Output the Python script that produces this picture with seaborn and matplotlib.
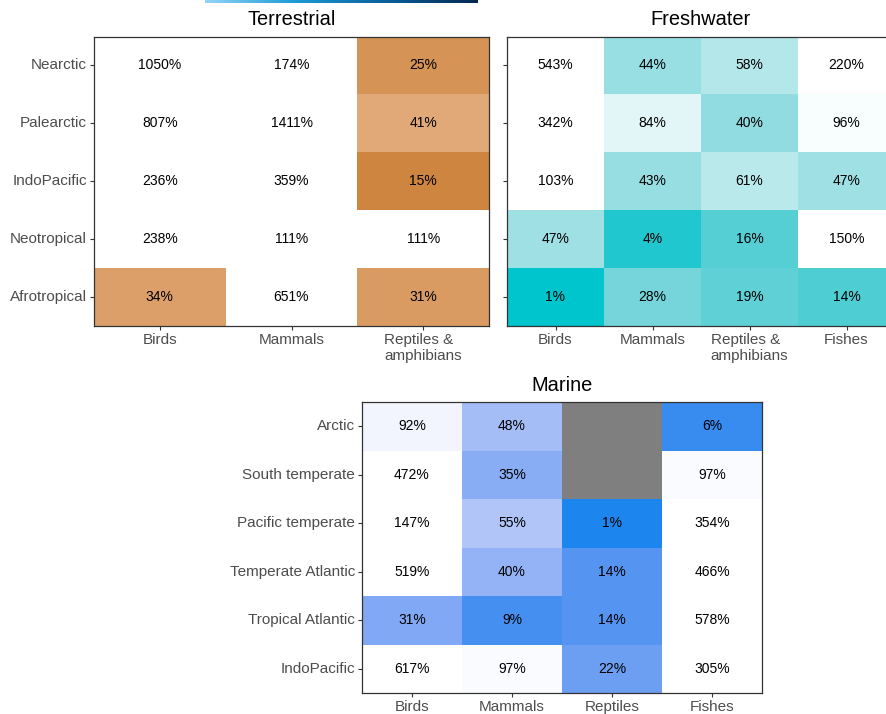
import numpy as np
import pandas as pd
import matplotlib
matplotlib.use("Agg")
import matplotlib.pyplot as plt
from matplotlib.colors import ListedColormap, Normalize, LinearSegmentedColormap
import seaborn as sns

# ---- data (percentages) ----
terr_rows = ["Nearctic", "Palearctic", "IndoPacific", "Neotropical", "Afrotropical"]
terr_cols = ["Birds", "Mammals", "Reptiles &\namphibians"]
terr_birds = [1050, 807, 236, 238, 34]
terr_mammals = [174, 1411, 359, 111, 651]
terr_reptiles = [25, 41, 15, 111, 31]

fresh_rows = ["Nearctic", "Palearctic", "IndoPacific", "Neotropical", "Afrotropical"]
fresh_cols = ["Birds", "Mammals", "Reptiles &\namphibians", "Fishes"]
fresh_birds = [543, 342, 103, 47, 1]
fresh_mammals = [44, 84, 43, 4, 28]
fresh_reptiles = [58, 40, 61, 16, 19]
fresh_fishes = [220, 96, 47, 150, 14]

marine_rows = ["Arctic", "South temperate", "Pacific temperate",
               "Temperate Atlantic", "Tropical Atlantic", "IndoPacific"]
marine_cols = ["Birds", "Mammals", "Reptiles", "Fishes"]
marine_birds = [92, 472, 147, 519, 31, 617]
marine_mammals = [48, 35, 55, 40, 9, 97]
marine_reptiles = [np.nan, np.nan, 1, 14, 14, 22]
marine_fishes = [6, 97, 354, 466, 578, 305]

TEXT_GREY = "#4D4D4D"
FRAME = "#333333"
NA_GREY = "#7F7F7F"


# ---- CIELAB gradient helpers ----
def _srgb_to_lin(c):
    c = np.asarray(c, float)
    return np.where(c <= 0.04045, c / 12.92, ((c + 0.055) / 1.055) ** 2.4)


def _lin_to_srgb(c):
    c = np.clip(c, 0, 1)
    return np.where(c <= 0.0031308, 12.92 * c, 1.055 * c ** (1 / 2.4) - 0.055)


_M = np.array([[0.4124564, 0.3575761, 0.1804375],
               [0.2126729, 0.7151522, 0.0721750],
               [0.0193339, 0.1191920, 0.9503041]])
_WP = np.array([0.95047, 1.0, 1.08883])


def _rgb_to_lab(rgb):
    xyz = _M @ _srgb_to_lin(rgb) / _WP
    f = np.where(xyz > (6 / 29) ** 3, np.cbrt(xyz), xyz / (3 * (6 / 29) ** 2) + 4 / 29)
    return np.array([116 * f[1] - 16, 500 * (f[0] - f[1]), 200 * (f[1] - f[2])])


def _lab_to_rgb(lab):
    L, a, b = lab
    fy = (L + 16) / 116
    fx = fy + a / 500
    fz = fy - b / 200
    f = np.array([fx, fy, fz])
    xyz = np.where(f > 6 / 29, f ** 3, 3 * (6 / 29) ** 2 * (f - 4 / 29)) * _WP
    lin = np.linalg.inv(_M) @ xyz
    return np.clip(_lin_to_srgb(lin), 0, 1)


def lab_ramp(low_hex, n=256):
    low = np.array(matplotlib.colors.to_rgb(low_hex))
    lab_lo = _rgb_to_lab(low)
    lab_hi = _rgb_to_lab(np.ones(3))
    cols = [_lab_to_rgb(lab_lo * (1 - t) + lab_hi * t) for t in np.linspace(0, 1, n)]
    cmap = ListedColormap(cols)
    cmap.set_over("white")
    cmap.set_bad(NA_GREY)
    return cmap


def draw_panel(ax, rows, cols, columns, low_color, title, show_ylabels=True):
    df = pd.DataFrame(dict(zip(cols, columns)), index=rows)
    labels = df.map(lambda v: "" if pd.isna(v) else f"{int(v)}%")
    vmin = np.nanmin(df.values)
    sns.heatmap(df, ax=ax, cmap=lab_ramp(low_color),
                norm=Normalize(vmin=vmin, vmax=100), cbar=False,
                annot=labels.values, fmt="",
                annot_kws={"color": "black", "fontsize": 10})
    ax.set_facecolor(NA_GREY)
    for s in ax.spines.values():
        s.set_visible(True)
        s.set_color(FRAME)
        s.set_linewidth(0.9)
    ax.tick_params(axis="both", bottom=True, left=True, length=3, width=0.8,
                   color=FRAME, labelcolor=TEXT_GREY, labelsize=11, pad=2)
    ax.set_xticklabels(cols, rotation=0, ha="center", multialignment="left")
    if show_ylabels:
        ax.set_yticklabels(rows, rotation=0)
    else:
        ax.set_yticklabels([])
    ax.set_xlabel("")
    ax.set_ylabel("")
    ax.set_title(title, fontsize=14.4, color="black", pad=8)


sns.set_style("white")
plt.rcParams["font.family"] = ["Liberation Sans", "DejaVu Sans"]

W, H = 886, 714
fig = plt.figure(figsize=(W / 100, H / 100), dpi=100)


def px_axes(x0, y0, x1, y1):
    return fig.add_axes([x0 / W, 1 - y1 / H, (x1 - x0) / W, (y1 - y0) / H])


ax_t = px_axes(94, 36.5, 489, 326)
ax_f = px_axes(507, 36.5, 895, 326)
ax_m = px_axes(362, 402, 762, 693)

draw_panel(ax_t, terr_rows, terr_cols,
           [terr_birds, terr_mammals, terr_reptiles], "#CD853F", "Terrestrial")
draw_panel(ax_f, fresh_rows, fresh_cols,
           [fresh_birds, fresh_mammals, fresh_reptiles, fresh_fishes],
           "#00C5CD", "Freshwater", show_ylabels=False)
draw_panel(ax_m, marine_rows, marine_cols,
           [marine_birds, marine_mammals, marine_reptiles, marine_fishes],
           "#1C86EE", "Marine")

# thin gradient strip along the top edge
ax_g = px_axes(205, 0, 478, 3.5)
grad = LinearSegmentedColormap.from_list("strip", ["#93d4f6", "#1b9ad6", "#0a5f9a", "#03284f"])
ax_g.imshow(np.linspace(0, 1, 256)[None, :], aspect="auto", cmap=grad)
ax_g.set_axis_off()

fig.savefig("out.png", dpi=100)
